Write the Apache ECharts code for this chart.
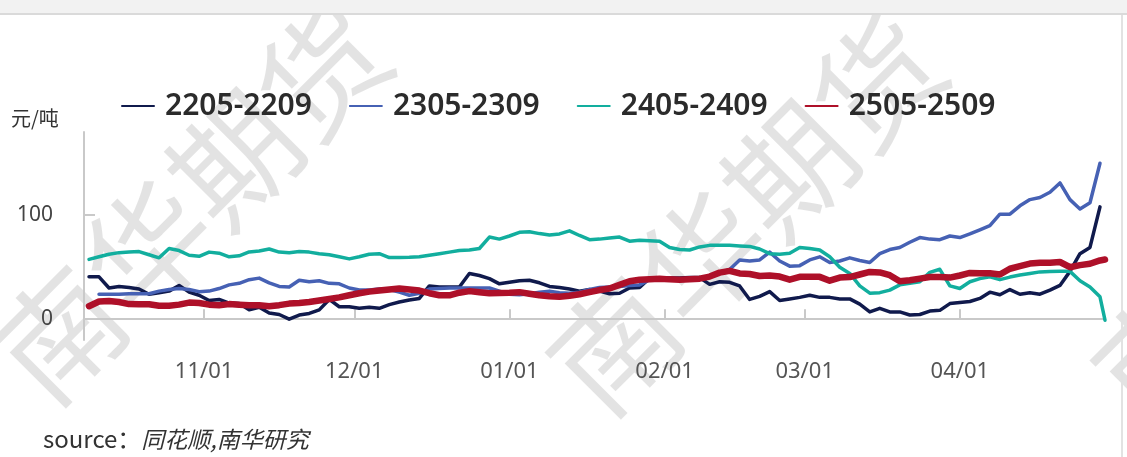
<!DOCTYPE html>
<html>
<head>
<meta charset="utf-8">
<script src="https://cdn.jsdelivr.net/npm/echarts@6/dist/echarts.min.js"></script>
<style>
  html, body { margin: 0; padding: 0; background: #fff; }
  #topbar {
    position: absolute; left: 0; top: 0; width: 1127px; height: 13px;
    background: #f2f2f2; border-bottom: 2px solid #dadada; z-index: 2;
  }
  #rightline {
    position: absolute; left: 1121px; top: 15px; width: 2px; height: 442px;
    background: #e2e2e2; z-index: 2;
  }
  #chart { position: absolute; left: 0; top: 0; width: 1127px; height: 457px; }
</style>
</head>
<body>
<div id="topbar"></div>
<div id="rightline"></div>
<div id="chart"></div>
<script>
// 日期（每两个交易日取一点）
const dates = [
  '2024-10-09','2024-10-11','2024-10-13','2024-10-15','2024-10-17','2024-10-19','2024-10-21','2024-10-23','2024-10-25','2024-10-27',
  '2024-10-29','2024-10-31','2024-11-02','2024-11-04','2024-11-06','2024-11-08','2024-11-10','2024-11-12','2024-11-14','2024-11-16',
  '2024-11-18','2024-11-20','2024-11-22','2024-11-24','2024-11-26','2024-11-28','2024-11-30','2024-12-02','2024-12-04','2024-12-06',
  '2024-12-08','2024-12-10','2024-12-12','2024-12-14','2024-12-16','2024-12-18','2024-12-20','2024-12-22','2024-12-24','2024-12-26',
  '2024-12-28','2024-12-30','2025-01-01','2025-01-03','2025-01-05','2025-01-07','2025-01-09','2025-01-11','2025-01-13','2025-01-15',
  '2025-01-17','2025-01-19','2025-01-21','2025-01-23','2025-01-25','2025-01-27','2025-01-29','2025-01-31','2025-02-02','2025-02-04',
  '2025-02-06','2025-02-08','2025-02-10','2025-02-12','2025-02-14','2025-02-16','2025-02-18','2025-02-20','2025-02-22','2025-02-24',
  '2025-02-26','2025-02-28','2025-03-02','2025-03-04','2025-03-06','2025-03-08','2025-03-10','2025-03-12','2025-03-14','2025-03-16',
  '2025-03-18','2025-03-20','2025-03-22','2025-03-24','2025-03-26','2025-03-28','2025-03-30','2025-04-01','2025-04-03','2025-04-05',
  '2025-04-07','2025-04-09','2025-04-11','2025-04-13','2025-04-15','2025-04-17','2025-04-19','2025-04-21','2025-04-23','2025-04-25',
  '2025-04-27','2025-04-29','2025-04-30'
];

// 各年度价差（元/吨）
const s2205 = [
  40.7, 40.7, 30, 31.5, 30.5, 29, 24, 25.5, 27, 32.5,
  26, 23, 18, 19, 15.5, 15, 9, 11.5, 6, 4.5,
  0, 4, 5.5, 9, 19, 12, 12, 10.5, 11.5, 10.5,
  14, 16.5, 18.5, 20, 32, 31, 31, 31, 44, 42,
  39, 34, 35.5, 37, 37.5, 35, 31.5, 30.5, 29, 27,
  28.5, 27, 24.5, 25, 30, 30.5, 39.5, 39.5, 39.5, 39.5,
  40, 40, 33.5, 36, 35.5, 32, 19, 22, 26.5, 18,
  19.5, 21, 23, 21, 21, 19.5, 19.5, 14.5, 7, 10.5,
  7, 7, 4, 4.5, 7.8, 8.5, 15, 16, 17, 20,
  26, 23.5, 28.5, 24, 25.5, 24, 28, 32.5, 46, 63,
  69, 108, null
];
const s2305 = [
  null, 24, 24, 24, 24.5, 24.5, 24.5, 27, 28.5, 29.5,
  28.5, 26.5, 27, 29.5, 33, 34.5, 38, 39.5, 35, 31.5,
  31, 37.5, 36, 37, 34.5, 34, 30, 28, 28, 29,
  28.5, 26, 23, 25, 29, 29.5, 30, 30, 30, 30,
  30, 27, 24, 23.5, 24.5, 26, 27, 25.5, 25, 26,
  28.5, 30.5, 31, 31.5, 32.5, 33, 38, 38, 38, 38,
  38, 38, 41, 44.5, 47.8, 57, 56, 57, 64.5, 56,
  51, 51.5, 57, 60, 54.5, 56, 59, 56.5, 54.5, 63,
  67, 69, 74, 78.5, 77, 76.5, 80, 78.5, 82, 86,
  90, 101, 101, 109, 115, 117, 122, 131, 115, 106,
  112, 150, null
];
const s2405 = [
  57.5, 60, 62.5, 64, 64.5, 65, 62, 59, 68, 66,
  61.5, 60.5, 64.5, 63.5, 60, 61, 64.7, 65.5, 67.5, 64.5,
  64, 65, 64.5, 63, 62, 60, 58, 60, 62.5, 63,
  59.3, 59.3, 59.5, 60, 61.5, 63, 64.5, 66, 66.5, 68,
  79, 77, 80, 83.5, 84, 82.3, 81, 82, 85, 80.5,
  76.5, 77, 78, 79, 75, 76, 75.5, 75, 69, 67,
  66.5, 69.5, 71, 71, 71, 70.5, 70, 67.5, 63, 62.5,
  63.5, 69, 68, 66.5, 60, 50, 44, 32, 25, 25.5,
  28, 33, 34.5, 36, 45, 48, 32, 29.5, 36, 39,
  40.7, 38, 40.5, 42.5, 44, 45.5, 45.8, 46, 46, 37,
  31, 21.5, -1
];
const s2505 = [
  12.5, 17, 17.5, 16.5, 14.5, 14.4, 14.4, 13, 13, 14,
  16, 15.5, 14, 13.5, 14.5, 14, 13.5, 13.5, 12.5, 13.5,
  15, 15.5, 16.5, 18, 19.5, 21, 23, 25, 26.5, 27.5,
  28.5, 29.5, 28.5, 27.5, 25, 23, 23, 25.5, 27, 26,
  25, 25.3, 25.5, 26, 24.5, 23, 22, 21.5, 22.5, 24,
  26, 28, 29.5, 33, 36.5, 38, 38.5, 39, 38.3, 38,
  38.5, 39, 41, 44.8, 46.5, 44, 43.5, 41.5, 42, 41,
  38, 40.7, 40.7, 40.7, 37, 40, 40.5, 43, 45.5, 45,
  42.3, 36.5, 37.5, 39, 40.5, 40.5, 40, 42, 44.5, 44.2,
  44.2, 43, 48.5, 51, 53.5, 54.3, 54.3, 55, 50, 52,
  53.3, 56.5, 57.4
];

const seriesNames = ['2205-2209', '2305-2309', '2405-2409', '2505-2509'];
const seriesValues = [s2205, s2305, s2405, s2505];
const colors = ['#101a4c', '#4661b4', '#12ae9e', '#ae1029'];
const widths = [3.5, 3.5, 3.5, 6.5];

// 坐标轴刻度
const xTicks = ['2024-11-01', '2024-12-01', '2025-01-01', '2025-02-01', '2025-03-01', '2025-04-01'];
const yTicks = [0, 100];

const chart = echarts.init(document.getElementById('chart'));

const font = '"Noto Sans", "Noto Sans CJK SC", sans-serif';
const cjk = '"Noto Sans CJK SC", "Noto Sans", sans-serif';
const toTime = d => +echarts.time.parse(d);
const xTickTimes = xTicks.map(toTime);

// 水印
const watermark = [
  [191, 203],
  [746, 214],
  [1291, 222]
].map(p => ({
  type: 'text',
  x: p[0],
  y: p[1],
  rotation: Math.PI / 4,
  z: 0,
  silent: true,
  style: {
    text: '南华期货',
    fontSize: 124,
    fontFamily: cjk,
    fill: 'rgba(0,0,0,0.11)',
    align: 'center',
    verticalAlign: 'middle'
  }
}));

chart.setOption({
  animation: false,
  color: colors,
  grid: { left: 84, right: 22, top: 132, bottom: 117 },
  legend: {
    left: 116,
    top: 86,
    itemWidth: 32,
    itemHeight: 14,
    itemGap: 37,
    itemStyle: { opacity: 0 },
    textStyle: {
      fontSize: 30,
      fontWeight: 600,
      fontFamily: font,
      color: '#2b2b2b',
      padding: [0, 0, 0, 6]
    },
    data: seriesNames
  },
  xAxis: {
    type: 'value',
    min: toTime('2024-10-08'),
    max: toTime('2025-04-30'),
    axisLine: { lineStyle: { color: '#c9c9c9', width: 2 } },
    axisTick: {
      customValues: xTickTimes,
      inside: true,
      length: 10,
      lineStyle: { color: '#c9c9c9', width: 2 }
    },
    axisLabel: {
      customValues: xTickTimes,
      margin: 21,
      fontSize: 22,
      fontFamily: font,
      color: '#555',
      formatter: v => echarts.time.format(v, '{MM}/{dd}', false)
    },
    splitLine: { show: false }
  },
  yAxis: {
    type: 'value',
    min: -20,
    max: 180,
    axisLine: { show: true, lineStyle: { color: '#c9c9c9', width: 2 } },
    axisTick: {
      show: true,
      customValues: yTicks,
      inside: true,
      length: 11,
      lineStyle: { color: '#c9c9c9', width: 2 }
    },
    axisLabel: {
      customValues: yTicks,
      margin: 31,
      fontSize: 21,
      fontFamily: font,
      color: '#444'
    },
    splitLine: { show: false }
  },
  graphic: watermark.concat([
    {
      type: 'text',
      x: 11,
      y: 118,
      z: 10,
      style: {
        text: '元/吨',
        fontSize: 20,
        fontFamily: cjk,
        fill: '#333',
        verticalAlign: 'middle'
      }
    },
    {
      type: 'text',
      x: 43,
      y: 439,
      z: 10,
      style: {
        text: '{a|source：}{b|同花顺,南华研究}',
        verticalAlign: 'middle',
        rich: {
          a: { fontSize: 24, fontFamily: cjk, fill: '#333' },
          b: { fontSize: 23, fontFamily: cjk, fill: '#333', fontStyle: 'italic' }
        }
      }
    }
  ]),
  series: seriesNames.map((name, i) => ({
    name: name,
    type: 'line',
    data: dates.map((d, j) => [toTime(d), seriesValues[i][j]]),
    showSymbol: false,
    symbol: 'none',
    connectNulls: false,
    lineStyle: { color: colors[i], width: widths[i], join: 'round', cap: 'round' },
    z: 2 + i
  }))
});
</script>
</body>
</html>
